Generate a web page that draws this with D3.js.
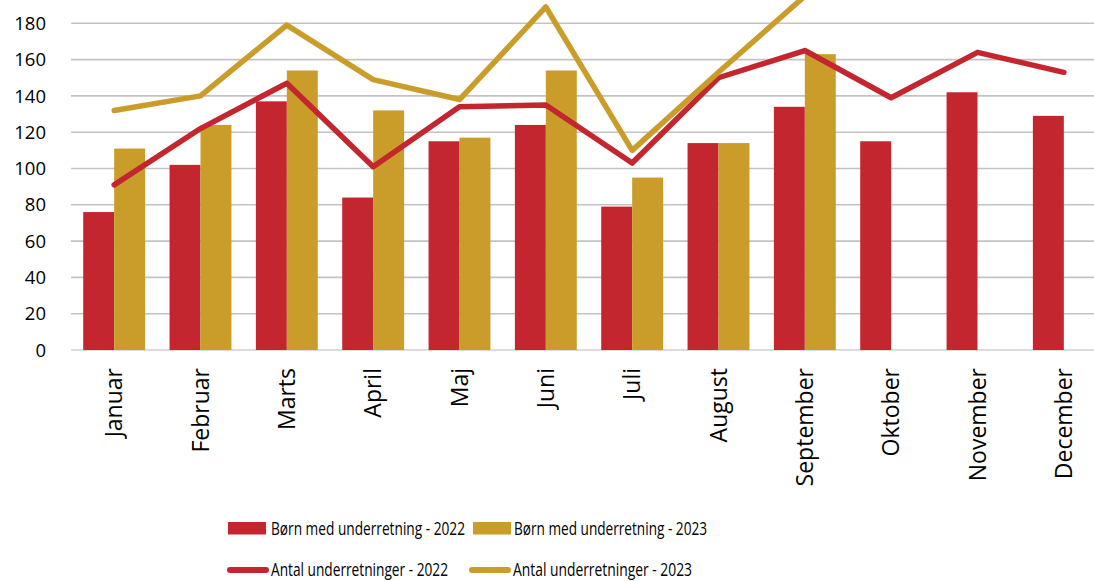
<!DOCTYPE html>
<html>
<head>
<meta charset="utf-8">
<script src="https://cdn.jsdelivr.net/npm/d3@7"></script>
<style>
  html, body { margin: 0; padding: 0; background: #fff; }
  svg { display: block; font-family: "Open Sans", sans-serif; }
</style>
</head>
<body>
<svg id="chart" width="1094" height="581"></svg>
<script>
const months = ["Januar","Februar","Marts","April","Maj","Juni","Juli","August","September","Oktober","November","December"];
const born2022 = [76,102,137,84,115,124,79,114,134,115,142,129];
const born2023 = [111,124,154,132,117,154,95,114,163,null,null,null];
const antal2022 = [91,122,147,101,134,135,103,150,165,139,164,153];
const antal2023 = [132,140,179,149,138,189,110,153,195,null,null,null];
const yTicks = [0,20,40,60,80,100,120,140,160,180];

const RED = "#C3262F";
const GOLD = "#CA9D2B";

const svg = d3.select("#chart");
const x = d3.scaleBand().domain(months).range([71, 1107]).paddingInner(0.283).paddingOuter(0.1415);
const x1 = d3.scaleBand().domain(["2022","2023"]).range([0, x.bandwidth()]);
const y = d3.scaleLinear().domain([0, 180]).range([350, 23.3]);

// gridlines
svg.append("g").selectAll("line").data(yTicks).join("line")
  .attr("x1", 71).attr("x2", 1107)
  .attr("y1", d => y(d)).attr("y2", d => y(d))
  .attr("stroke", d => d === 0 ? "#d0d0d0" : "#c3c3c3").attr("stroke-width", 1.6);

// y tick labels
svg.append("g").selectAll("text").data(yTicks).join("text")
  .attr("x", 46).attr("y", d => y(d)).attr("dy", "0.36em")
  .attr("text-anchor", "end").attr("font-size", 18.5).attr("fill", "#000")
  .text(d => d);

// bars
const series = [{k:"2022", v: born2022, c: RED}, {k:"2023", v: born2023, c: GOLD}];
series.forEach(s => {
  svg.append("g").selectAll("rect").data(months.map((m,i) => ({m, v: s.v[i]})).filter(d => d.v != null)).join("rect")
    .attr("x", d => x(d.m) + x1(s.k)).attr("width", x1.bandwidth())
    .attr("y", d => y(d.v)).attr("height", d => y(0) - y(d.v))
    .attr("fill", s.c);
});

// lines
const line = d3.line().defined(d => d.v != null).x(d => x(d.m) + x.bandwidth()/2).y(d => y(d.v));
[{v: antal2022, c: RED}, {v: antal2023, c: GOLD}].forEach(s => {
  svg.append("path").datum(months.map((m,i) => ({m, v: s.v[i]})))
    .attr("d", line).attr("fill", "none").attr("stroke", s.c)
    .attr("stroke-width", 5.5).attr("stroke-linejoin", "round").attr("stroke-linecap", "round");
});

// x labels
svg.append("g").selectAll("text").data(months).join("text")
  .attr("transform", d => `translate(${x(d) + x.bandwidth()/2 + 8},368) rotate(-90)`)
  .attr("text-anchor", "end").attr("font-size", 23).attr("fill", "#000")
  .text(d => d);

// legend
const legendItems = [
  {t: "Børn med underretning - 2022", c: RED, type: "rect", sx: 228, tx: 271, w: 194, row: 0},
  {t: "Børn med underretning - 2023", c: GOLD, type: "rect", sx: 473, tx: 514, w: 193, row: 0},
  {t: "Antal underretninger - 2022", c: RED, type: "line", sx: 228, tx: 271, w: 177, row: 1},
  {t: "Antal underretninger - 2023", c: GOLD, type: "line", sx: 470, tx: 513, w: 179, row: 1}
];
const lg = svg.append("g");
legendItems.forEach(it => {
  const base = it.row === 0 ? 535 : 576;
  if (it.type === "rect") {
    lg.append("rect").attr("x", it.sx).attr("y", 522).attr("width", 38).attr("height", 12.5).attr("fill", it.c);
  } else {
    lg.append("line").attr("x1", it.sx + 2).attr("x2", it.sx + 38).attr("y1", 570).attr("y2", 570)
      .attr("stroke", it.c).attr("stroke-width", 6).attr("stroke-linecap", "round");
  }
  lg.append("text").attr("x", it.tx).attr("y", base).attr("font-size", 19).attr("fill", "#000")
    .attr("textLength", it.w).attr("lengthAdjust", "spacingAndGlyphs").text(it.t);
});
</script>
</body>
</html>
